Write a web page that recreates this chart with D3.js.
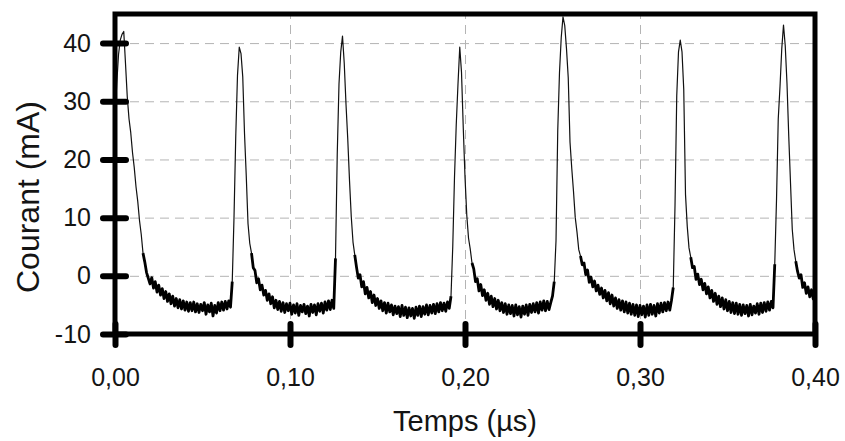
<!DOCTYPE html>
<html>
<head>
<meta charset="utf-8">
<script src="https://cdn.jsdelivr.net/npm/d3@7"></script>
<style>
  body { margin: 0; background: #fff; }
  svg { display: block; font-family: 'Liberation Sans', Arial, sans-serif; }
</style>
</head>
<body>
<script>
// oscilloscope trace, one sample every 0.001 µs from 0 to 0.40 µs
const sampleInterval = 0.001;
const courant = [
  27, 33, 38, 40.5, 41.5, 42, 36.5, 30.8, 27, 24.6,
  21.2, 18.6, 15.3, 12.8, 9.5, 7.1, 3.9, 2.4, 0.6, -0.4,
  -1.4, -0.3, -2.1, -1.0, -2.8, -1.6, -3.3, -2.2, -3.9, -2.7,
  -4.4, -3.1, -4.8, -3.5, -5.2, -3.9, -5.5, -4.1, -5.7, -4.3,
  -5.9, -4.5, -6.1, -4.6, -6.0, -4.5, -6.2, -4.8, -6.3, -4.9,
  -6.0, -4.6, -6.6, -5.0, -6.2, -4.7, -6.9, -5.1, -6.4, -4.6,
  -6.0, -4.5, -5.9, -4.4, -5.7, -4.3, -5.4, -1.0, 10, 24,
  34.5, 39.3, 38.2, 34.2, 24.5, 17.2, 9.0, 5.6, 3.9, 1.4,
  0.9, -1.2, -0.5, -2.4, -1.6, -3.3, -2.5, -4.2, -3.1, -4.8,
  -3.6, -5.5, -4.2, -5.8, -4.4, -6.1, -4.6, -6.3, -4.8, -6.0,
  -4.7, -6.6, -5.0, -6.4, -4.8, -6.8, -5.1, -6.2, -4.9, -6.5,
  -5.2, -6.9, -4.9, -6.3, -5.0, -6.7, -4.8, -6.1, -4.7, -6.4,
  -4.5, -5.9, -4.3, -5.8, -4.2, -5.6, 3, 21, 33, 38.5,
  41.2, 36.5, 29.5, 23.5, 16.4, 10.2, 5.8, 3.6, 1.5, -0.4,
  0.2, -1.9, -1.0, -3.1, -2.0, -3.8, -2.7, -4.6, -3.3, -5.1,
  -3.9, -5.6, -4.3, -6.0, -4.6, -6.4, -4.7, -6.2, -5.0, -6.7,
  -5.2, -6.5, -5.3, -7.0, -5.1, -6.8, -5.4, -7.2, -5.5, -6.9,
  -5.6, -7.3, -5.4, -6.8, -5.2, -7.0, -5.3, -6.6, -5.0, -6.7,
  -5.1, -6.4, -4.9, -6.5, -4.8, -6.2, -4.6, -6.0, -4.7, -6.1,
  -4.5, -5.6, -3.5, 5, 17, 26, 33, 39.3, 35, 25.5,
  17, 10.5, 6.5, 4.6, 2.2, 1.2, -1.0, -0.5, -2.6, -1.5,
  -3.4, -2.4, -4.2, -3.0, -4.9, -3.5, -5.3, -3.9, -5.7, -4.2,
  -6.0, -4.6, -6.3, -4.8, -6.6, -5.0, -6.5, -5.1, -6.9, -5.0,
  -6.7, -5.3, -7.1, -5.2, -6.6, -5.0, -6.8, -4.9, -6.3, -4.8,
  -6.2, -4.6, -6.4, -4.5, -5.9, -4.3, -6.0, -4.4, -5.8, -4.6,
  -3.5, -1, 6, 25, 35, 41, 44.5, 43, 39, 34,
  23, 18.5, 14.5, 10, 7.5, 4.5, 3.4, 1.9, 2.2, 0.2,
  1.0, -1.1, -0.2, -1.9, -0.9, -2.6, -1.6, -3.2, -2.1, -3.8,
  -2.5, -4.3, -2.9, -4.8, -3.3, -5.2, -3.8, -5.6, -4.1, -5.9,
  -4.3, -6.2, -4.5, -6.4, -4.7, -6.6, -4.9, -6.8, -5.0, -7.0,
  -5.1, -6.7, -5.2, -7.1, -5.0, -6.8, -4.9, -6.6, -5.1, -6.9,
  -4.8, -6.4, -4.7, -6.2, -4.6, -6.0, -4.5, -5.9, -4.2, -2,
  12, 31, 38.5, 40.5, 38.5, 32, 14, 8.5, 4.8, 3.2,
  1.4, 1.6, -0.6, 0.3, -1.5, -0.6, -2.4, -1.3, -3.1, -1.9,
  -3.8, -2.5, -4.4, -3.0, -4.9, -3.5, -5.3, -3.8, -5.7, -4.1,
  -6.0, -4.4, -6.3, -4.6, -6.5, -4.7, -6.6, -4.9, -6.8, -5.0,
  -6.5, -5.1, -6.9, -4.9, -6.7, -5.2, -6.4, -4.8, -6.6, -4.7,
  -6.3, -4.6, -6.1, -4.5, -5.9, -4.4, -5.5, 2, 13, 27,
  32.5, 39, 43.1, 39.5, 33, 24, 16, 8, 4.5, 2.5,
  0.8, -0.4, 0.2, -2.0, -1.2, -3.0, -1.9, -3.6, -2.4, -4.0,
  -2.8,
];

const xDomain = [0, 0.4];
const yDomain = [-10, 45];
const xTicks = [0, 0.1, 0.2, 0.3, 0.4];
const xTickLabels = ['0,00', '0,10', '0,20', '0,30', '0,40'];
const yTicks = [-10, 0, 10, 20, 30, 40];
const yTickLabels = ['-10', '0', '10', '20', '30', '40'];
const xGrid = [0.1, 0.2, 0.3];
const yGrid = [0, 10, 20, 30, 40];
const xTitle = 'Temps (µs)';
const yTitle = 'Courant (mA)';

const config = {
  size: { width: 845, height: 441 },
  plot: { left: 115, right: 815, top: 14, bottom: 334 },
  frameWidth: 5,
  tickWidth: 6,
  noiseLevel: 4, // below this the noisy floor is drawn heavier, as on the scope print
  gridColor: '#b4b4b4',
  textColor: '#141414',
};

const svg = d3.select('body')
  .append('svg')
  .attr('width', config.size.width)
  .attr('height', config.size.height);

const { plot } = config;
const x = d3.scaleLinear().domain(xDomain).range([plot.left, plot.right]);
const y = d3.scaleLinear().domain(yDomain).range([plot.bottom, plot.top]);

// grid
const gridStyle = g => g
  .call(s => s.select('.domain').remove())
  .selectAll('line')
  .attr('stroke', config.gridColor)
  .attr('stroke-width', 1)
  .attr('stroke-dasharray', '9,6');

svg.append('g')
  .attr('transform', `translate(${plot.left}, 0)`)
  .call(d3.axisLeft(y).tickValues(yGrid).tickSize(-(plot.right - plot.left)).tickFormat(''))
  .call(gridStyle);

svg.append('g')
  .attr('transform', `translate(0, ${plot.bottom})`)
  .call(d3.axisBottom(x).tickValues(xGrid).tickSize(-(plot.bottom - plot.top)).tickFormat(''))
  .call(gridStyle);

// trace
svg.append('clipPath')
  .attr('id', 'plot-clip')
  .append('rect')
  .attr('x', plot.left)
  .attr('y', plot.top)
  .attr('width', plot.right - plot.left)
  .attr('height', plot.bottom - plot.top);

const line = d3.line()
  .x((d, i) => x(i * sampleInterval))
  .y(d => y(d));

const trace = svg.append('g').attr('clip-path', 'url(#plot-clip)');

trace.append('path')
  .datum(courant)
  .attr('fill', 'none')
  .attr('stroke', '#111')
  .attr('stroke-width', 1.2)
  .attr('stroke-linejoin', 'round')
  .attr('d', line);

// heavier stroke over the noisy floor so it reads as a dark band
trace.append('path')
  .datum(courant)
  .attr('fill', 'none')
  .attr('stroke', '#000')
  .attr('stroke-width', 2.8)
  .attr('stroke-linejoin', 'round')
  .attr('d', line.defined(d => d < config.noiseLevel));

// frame
svg.append('rect')
  .attr('x', plot.left)
  .attr('y', plot.top)
  .attr('width', plot.right - plot.left)
  .attr('height', plot.bottom - plot.top)
  .attr('fill', 'none')
  .attr('stroke', '#000')
  .attr('stroke-width', config.frameWidth);

// axes
const yAxis = svg.append('g')
  .attr('transform', `translate(${plot.left}, 0)`)
  .call(d3.axisLeft(y).tickValues(yTicks).tickSize(12).tickPadding(12)
    .tickFormat((d, i) => yTickLabels[i]));

yAxis.select('.domain').remove();
yAxis.selectAll('.tick line')
  .attr('x1', 11)
  .attr('stroke', '#000')
  .attr('stroke-width', config.tickWidth)
  .attr('stroke-linecap', 'round');
yAxis.selectAll('.tick text')
  .attr('fill', config.textColor)
  .style('font-size', '25px');

const xAxis = svg.append('g')
  .attr('transform', `translate(0, ${plot.bottom})`)
  .call(d3.axisBottom(x).tickValues(xTicks).tickSize(11).tickPadding(23)
    .tickFormat((d, i) => xTickLabels[i]));

xAxis.select('.domain').remove();
xAxis.selectAll('.tick line')
  .attr('y1', -10)
  .attr('stroke', '#000')
  .attr('stroke-width', config.tickWidth)
  .attr('stroke-linecap', 'round');
xAxis.selectAll('.tick text')
  .attr('fill', config.textColor)
  .style('font-size', '25px');

// titles
svg.append('text')
  .attr('x', (plot.left + plot.right) / 2)
  .attr('y', 431)
  .attr('text-anchor', 'middle')
  .attr('fill', config.textColor)
  .style('font-size', '29px')
  .text(xTitle);

svg.append('text')
  .attr('transform', 'translate(39, 197) rotate(-90)')
  .attr('text-anchor', 'middle')
  .attr('fill', config.textColor)
  .style('font-size', '32px')
  .text(yTitle);
</script>
</body>
</html>
